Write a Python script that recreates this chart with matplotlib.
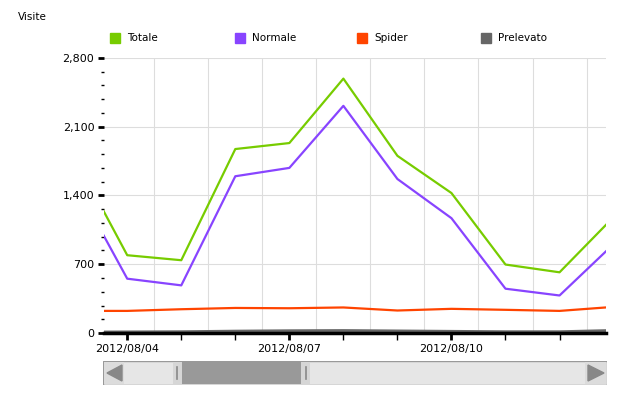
import matplotlib.pyplot as plt
from matplotlib.patches import Rectangle, Polygon
from matplotlib.ticker import FuncFormatter, MultipleLocator

# giorni di agosto 2012 (la vista e' zoomata tra il 3 e il 13)
giorni = [3, 4, 5, 6, 7, 8, 9, 10, 11, 12, 13]
totale = [1820, 792, 741, 1873, 1934, 2590, 1804, 1425, 697, 618, 1180]
normale = [1560, 553, 485, 1596, 1681, 2313, 1568, 1169, 451, 382, 905]
spider = [225, 225, 242, 255, 252, 260, 229, 246, 236, 225, 266]
prelevato = [8, 10, 12, 18, 22, 24, 20, 16, 12, 12, 25]

etichette_giorni = [4, 7, 10]
etichette = ["2012/08/04", "2012/08/07", "2012/08/10"]

colori = {"Totale": "#77cc00", "Normale": "#8844ff",
          "Spider": "#ff4400", "Prelevato": "#666666"}

fig = plt.figure(figsize=(6.29, 3.97), dpi=100)
W, H = 629, 397

ax = fig.add_axes([104 / W, 64 / H, 502 / W, 275 / H])
ax.plot(giorni, prelevato, color=colori["Prelevato"], lw=2.2, zorder=3)
ax.plot(giorni, spider, color=colori["Spider"], lw=1.6, zorder=3)
ax.plot(giorni, normale, color=colori["Normale"], lw=1.6, zorder=3)
ax.plot(giorni, totale, color=colori["Totale"], lw=1.6, zorder=3)

ax.set_xlim(3.57, 12.86)
ax.set_ylim(0, 2800)

# griglia
for g in [4.5, 5.5, 6.5, 7.5, 8.5, 9.5, 10.5, 11.5, 12.5]:
    ax.axvline(g, color="#dddddd", lw=0.8, zorder=1)
for v in [700, 1400, 2100, 2800]:
    ax.axhline(v, color="#dddddd", lw=0.8, zorder=1)

for s in ["top", "right", "left"]:
    ax.spines[s].set_visible(False)
ax.spines["bottom"].set_linewidth(2.5)
ax.spines["bottom"].set_zorder(4)

ax.yaxis.set_major_locator(MultipleLocator(700))
ax.yaxis.set_minor_locator(MultipleLocator(140))
ax.yaxis.set_major_formatter(FuncFormatter(lambda v, p: f"{int(v):,}"))
ax.tick_params(axis="y", which="major", length=4, width=2, labelsize=8, pad=3)
ax.tick_params(axis="y", which="minor", length=2, width=1)

ax.set_xticks(giorni[1:-1])
ax.set_xticklabels(["2012/08/04", "", "", "2012/08/07", "", "", "2012/08/10", "", ""])
ax.tick_params(axis="x", length=5, width=1, labelsize=8, pad=3)
for t, d in zip(ax.xaxis.get_major_ticks(), giorni[1:-1]):
    if d in etichette_giorni:
        t.tick1line.set_markeredgewidth(2)

# titolo asse
fig.text(18 / W, 1 - 17 / H, "Visite", fontsize=7.5, va="center", ha="left")

# legenda
leg_x = [110, 235, 357, 481]
for x, nome in zip(leg_x, ["Totale", "Normale", "Spider", "Prelevato"]):
    fig.patches.append(Rectangle((x / W, 1 - 43 / H), 10 / W, 10 / H,
                                 transform=fig.transFigure, color=colori[nome]))
    fig.text((x + 17) / W, 1 - 38 / H, nome, fontsize=7.5, va="center", ha="left")

# barra di scorrimento
sb = fig.add_axes([103 / W, 12 / H, 504 / W, 24 / H])
sb.set_xlim(103, 607)
sb.set_ylim(0, 24)
sb.axis("off")
sb.add_patch(Rectangle((103, 0), 504, 24, facecolor="#e6e6e6", edgecolor="#999999", lw=1))
sb.add_patch(Rectangle((104, 1), 20, 22, facecolor="#dcdcdc", edgecolor="none"))
sb.add_patch(Rectangle((585, 1), 21, 22, facecolor="#dcdcdc", edgecolor="none"))
sb.add_patch(Polygon([(122, 4), (122, 20), (107, 12)], color="#888888"))
sb.add_patch(Polygon([(588, 4), (588, 20), (604, 12)], color="#888888"))
sb.add_patch(Rectangle((173, 1), 9, 22, facecolor="#d6d6d6", edgecolor="none"))
sb.add_patch(Rectangle((301, 1), 9, 22, facecolor="#d6d6d6", edgecolor="none"))
sb.add_patch(Rectangle((182, 1), 119, 22, facecolor="#999999", edgecolor="none"))
sb.plot([177, 177], [6, 18], color="#888888", lw=1.2)
sb.plot([306, 306], [6, 18], color="#888888", lw=1.2)

fig.savefig("out.png", dpi=100)
